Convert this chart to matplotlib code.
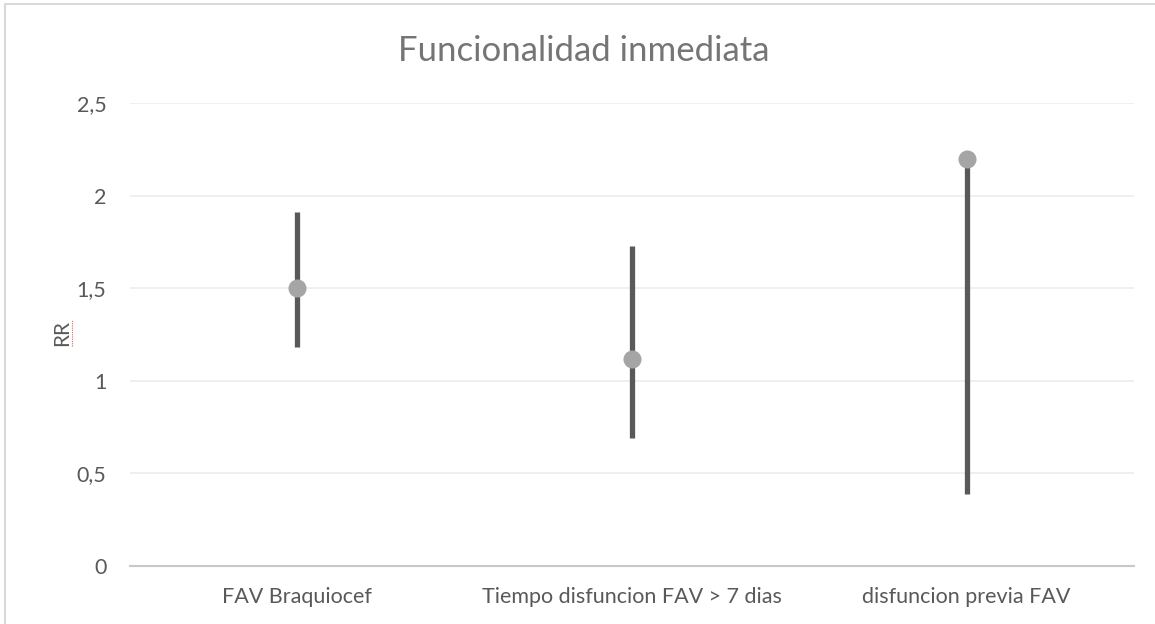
import matplotlib.pyplot as plt
from matplotlib.patches import Rectangle
from matplotlib.lines import Line2D

# datos
categories = ["FAV Braquiocef", "Tiempo disfuncion FAV > 7 dias", "disfuncion previa FAV"]
rr = [1.50, 1.12, 2.20]
rr_low = [1.18, 0.69, 0.39]
rr_high = [1.91, 1.73, 2.20]
yticks = [0, 0.5, 1, 1.5, 2, 2.5]
ytick_labels = ["0", "0,5", "1", "1,5", "2", "2,5"]

plt.rcParams["font.family"] = ["Lato", "DejaVu Sans"]

W, H = 1155, 624
fig = plt.figure(figsize=(W / 100, H / 100), dpi=100)
ax = fig.add_axes([130 / W, 58 / H, 1004 / W, 463 / H])

# borde del grafico (estilo Excel)
fig.patches.append(Rectangle((5 / W, -0.1), 1.2, 1 - 4 / H + 0.1,
                             transform=fig.transFigure, fill=False,
                             edgecolor="#D9D9D9", linewidth=1.5))

x = list(range(len(categories)))
ax.vlines(x, rr_low, rr_high, color="#595959", linewidth=3.8, zorder=3)
ax.plot(x, rr, "o", color="#A5A5A5", markersize=13, markeredgewidth=0, zorder=4)

ax.set_xlim(-0.5, len(categories) - 0.5)
ax.set_ylim(0, 2.5)
ax.set_yticks(yticks)
ax.set_yticklabels(ytick_labels)
ax.set_xticks(x)
ax.set_xticklabels(categories)
ax.tick_params(axis="both", length=0, colors="#595959", labelsize=15.5)
ax.tick_params(axis="y", pad=17)
ax.tick_params(axis="x", pad=15)

for s in ["top", "right", "left"]:
    ax.spines[s].set_visible(False)
ax.spines["bottom"].set_color("#C8C8C8")
ax.spines["bottom"].set_linewidth(1.5)
ax.spines["bottom"].set_zorder(2)

ax.grid(True, axis="y", color="#EEEEEE", linewidth=1.3)
ax.set_axisbelow(True)

fig.text(584 / W, 1 - 51 / H, "Funcionalidad inmediata", ha="center", va="center",
         fontsize=25, color="#757575")
fig.text(62 / W, 1 - 333 / H, "RR", ha="center", va="center", rotation=90,
         fontsize=15, color="#595959")
# subrayado del corrector ortografico
fig.add_artist(Line2D([72 / W, 72 / W], [1 - 346 / H, 1 - 320 / H],
                      transform=fig.transFigure, color="#E06060",
                      linewidth=0.8, linestyle=(0, (1, 1))))

fig.savefig("out.png", dpi=100)
